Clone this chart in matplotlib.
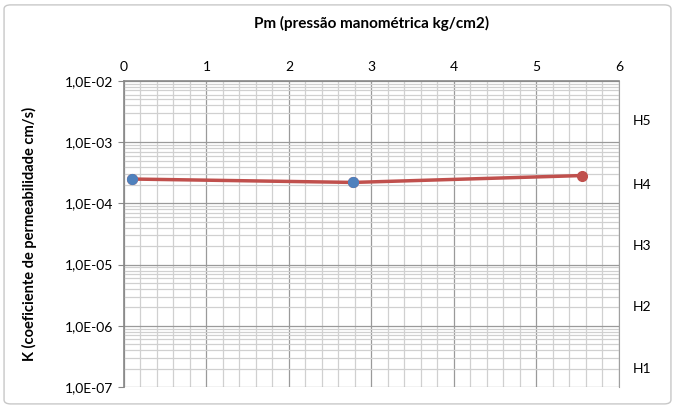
import matplotlib
matplotlib.use("Agg")
import matplotlib.pyplot as plt
from matplotlib.patches import FancyBboxPatch
from matplotlib.ticker import FixedLocator, MultipleLocator, LogLocator, NullFormatter

# pressure (kg/cm2) and permeability K (cm/s)
pm = [0.1, 2.78, 5.55]
k_values = [2.5e-4, 2.2e-4, 2.85e-4]
# points that also carry a blue marker
pm_blue = [0.1, 2.78]
k_blue = [2.5e-4, 2.2e-4]

y_ticks = [1e-7, 1e-6, 1e-5, 1e-4, 1e-3, 1e-2]
y_labels = ["1,0E-07", "1,0E-06", "1,0E-05", "1,0E-04", "1,0E-03", "1,0E-02"]
h_labels = ["H1", "H2", "H3", "H4", "H5"]
h_pos = [2.0e-7, 2.0e-6, 2.0e-5, 2.0e-4, 2.2e-3]

plt.rcParams["font.family"] = ["Lato", "DejaVu Sans"]

fig = plt.figure(figsize=(6.75, 4.08), dpi=100)
# light frame round the whole chart
frame = FancyBboxPatch((0.006, 0.01), 0.988, 0.978, boxstyle="round,pad=0,rounding_size=0.01",
                       transform=fig.transFigure, facecolor="none", edgecolor="#c8c8c8",
                       lw=1, zorder=-1)
fig.patches.append(frame)

ax = fig.add_axes([0.1837, 0.0515, 0.7333, 0.75])
ax.set_yscale("log")
ax.set_xlim(0, 6)
ax.set_ylim(1e-7, 1e-2)

# grid
ax.xaxis.set_major_locator(MultipleLocator(1))
ax.xaxis.set_minor_locator(MultipleLocator(0.2))
ax.yaxis.set_major_locator(FixedLocator(y_ticks))
ax.yaxis.set_minor_locator(LogLocator(base=10, subs=range(2, 10)))
ax.yaxis.set_minor_formatter(NullFormatter())
ax.grid(which="minor", color="#d0d0d0", lw=0.9)
ax.grid(which="major", color="#9a9a9a", lw=0.9)
ax.set_axisbelow(True)

ax.xaxis.tick_top()
ax.tick_params(axis="x", which="both", length=0, pad=6, labelsize=10)
ax.set_yticks(y_ticks)
ax.set_yticklabels(y_labels)
ax.tick_params(axis="y", which="major", length=4, color="#888888", labelsize=10)
ax.tick_params(axis="y", which="minor", length=0)

for side in ["left", "top"]:
    ax.spines[side].set_color("#888888")
    ax.spines[side].set_linewidth(1.2)
ax.spines["right"].set_color("#a0a0a0")
ax.spines["bottom"].set_visible(False)

# series
ax.plot(pm, k_values, color="#c0504d", lw=2.5, marker="o", markersize=7, zorder=3)
ax.plot(pm_blue, k_blue, linestyle="none", marker="o", markersize=7,
        color="#4f81bd", zorder=4)

# right side labels
for lab, yv in zip(h_labels, h_pos):
    ax.text(1.027, yv, lab, transform=ax.get_yaxis_transform(), fontsize=10,
            va="center", ha="left")

ax.set_title("Pm (pressão manométrica kg/cm2)", fontsize=11, fontweight="bold", pad=38)
ax.set_ylabel("K (coeficiente de permeabilidade cm/s)", fontsize=10.5, fontweight="bold",
              labelpad=20)

fig.savefig("out.png", dpi=100)
